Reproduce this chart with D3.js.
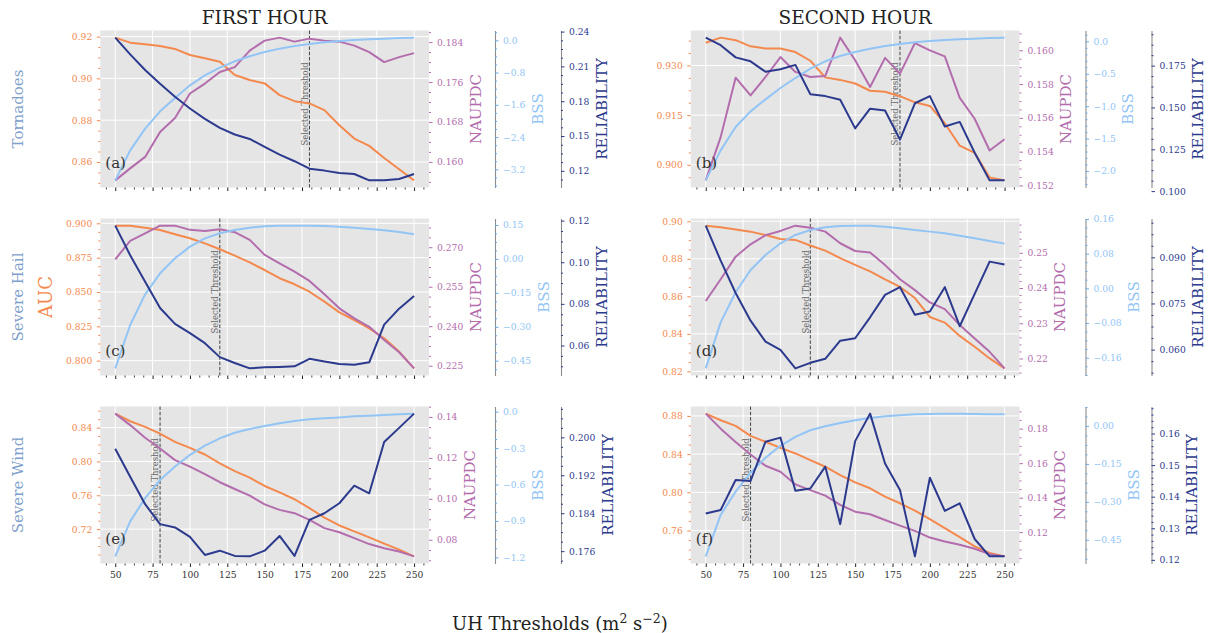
<!DOCTYPE html>
<html><head><meta charset="utf-8">
<script src="https://cdn.jsdelivr.net/npm/d3@7"></script>
<style>body{margin:0;background:#fff} text{font-family:"DejaVu Serif",serif}</style>
</head><body><svg id="c" width="1209" height="633"></svg>
<script>
// ---------- DATA ----------
const thresholds = [50,60,70,80,90,100,110,120,130,140,150,160,170,180,190,200,210,220,230,240,250];
const xTickLabels = ["50","75","100","125","150","175","200","225","250"];
const columnTitles = ["FIRST HOUR","SECOND HOUR"];
const rowLabels = ["Tornadoes","Severe Hail","Severe Wind"];
const panelLetters = ["(a)","(b)","(c)","(d)","(e)","(f)"];
const selectedThresholds = [180,180,120,120,80,80];

// (a) Tornadoes, first hour
const aucA = [0.9195,0.9171,0.9163,0.9155,0.9141,0.9112,0.9096,0.9080,0.9016,0.8992,0.8976,0.8920,0.8891,0.8880,0.8848,0.8776,0.8712,0.8677,0.8619,0.8565,0.8512];
const naupdcA = [0.1563,0.1587,0.1610,0.1660,0.1688,0.1737,0.1757,0.1780,0.1790,0.1823,0.1843,0.1849,0.1841,0.1847,0.1843,0.1841,0.1833,0.1820,0.1800,0.1810,0.1818];
const bssA = [-3.473,-2.729,-2.191,-1.761,-1.431,-1.116,-0.868,-0.678,-0.521,-0.397,-0.289,-0.207,-0.141,-0.091,-0.050,-0.017,0.008,0.025,0.041,0.058,0.066];
const relA = [0.2348,0.2204,0.2069,0.1950,0.1838,0.1737,0.1648,0.1571,0.1513,0.1475,0.1406,0.1340,0.1283,0.1219,0.1202,0.1182,0.1173,0.1118,0.1118,0.1130,0.1173];
// (b) Tornadoes, second hour
const aucB = [0.93687,0.93840,0.93764,0.93578,0.93513,0.93513,0.93404,0.93142,0.92640,0.92564,0.92455,0.92236,0.92204,0.92073,0.91887,0.91778,0.91255,0.90578,0.90360,0.89618,0.89531];
const naupdcB = [0.15230,0.15486,0.15838,0.15733,0.15842,0.15960,0.15872,0.15842,0.15848,0.16075,0.15941,0.15783,0.15955,0.15862,0.16043,0.16000,0.15964,0.15718,0.15595,0.15407,0.15473];
const bssB = [-2.144,-1.681,-1.321,-1.080,-0.895,-0.720,-0.566,-0.422,-0.308,-0.226,-0.165,-0.113,-0.072,-0.041,-0.015,0.005,0.021,0.031,0.041,0.051,0.057];
const relB = [0.19172,0.18722,0.17993,0.17757,0.17136,0.17286,0.17543,0.15786,0.15678,0.15464,0.13750,0.14929,0.14821,0.13078,0.15250,0.15678,0.13857,0.14136,0.12293,0.10643,0.10643];
// (c) Severe hail, first hour
const aucC = [0.8983,0.8983,0.8968,0.8951,0.8920,0.8891,0.8854,0.8811,0.8765,0.8716,0.8660,0.8600,0.8556,0.8502,0.8430,0.8352,0.8296,0.8235,0.8163,0.8066,0.7944];
const naupdcC = [0.2654,0.2724,0.2753,0.2782,0.2782,0.2766,0.2762,0.2768,0.2757,0.2728,0.2671,0.2639,0.2607,0.2572,0.2521,0.2468,0.2430,0.2398,0.2348,0.2301,0.2240];
const bssC = [-0.4838,-0.2922,-0.1566,-0.0637,0.0026,0.0542,0.0910,0.1132,0.1279,0.1382,0.1441,0.1471,0.1471,0.1471,0.1456,0.1426,0.1382,0.1323,0.1264,0.1190,0.1087];
const relC = [0.1176,0.1034,0.0906,0.0780,0.0704,0.0659,0.0611,0.0544,0.0516,0.0490,0.0495,0.0497,0.0500,0.0536,0.0523,0.0511,0.0507,0.0519,0.0700,0.0777,0.0838];
// (d) Severe hail, second hour
const aucD = [0.8977,0.8968,0.8956,0.8945,0.8927,0.8906,0.8901,0.8871,0.8844,0.8804,0.8768,0.8733,0.8690,0.8650,0.8591,0.8490,0.8460,0.8389,0.8331,0.8269,0.8216];
const naupdcD = [0.2363,0.2425,0.2489,0.2524,0.2550,0.2562,0.2577,0.2571,0.2560,0.2527,0.2505,0.2501,0.2465,0.2425,0.2394,0.2359,0.2340,0.2295,0.2257,0.2219,0.2172];
const bssD = [-0.1846,-0.0785,-0.0092,0.0423,0.0769,0.1038,0.1231,0.1346,0.1408,0.1438,0.1446,0.1446,0.1423,0.1385,0.1346,0.1308,0.1269,0.1215,0.1154,0.1092,0.1031];
const relD = [0.1003,0.0889,0.0784,0.0694,0.0626,0.0599,0.0539,0.0557,0.0570,0.0629,0.0637,0.0705,0.0778,0.0803,0.0713,0.0724,0.0803,0.0676,0.0781,0.0886,0.0877];
// (e) Severe wind, first hour
const aucE = [0.8565,0.8475,0.8408,0.8329,0.8231,0.8161,0.8082,0.7977,0.7886,0.7808,0.7710,0.7635,0.7553,0.7447,0.7337,0.7243,0.7173,0.7102,0.7028,0.6957,0.6878];
const naupdcE = [0.1416,0.1360,0.1298,0.1246,0.1189,0.1157,0.1121,0.1081,0.1048,0.1016,0.0973,0.0946,0.0930,0.0897,0.0857,0.0837,0.0808,0.0779,0.0759,0.0743,0.0719];
const bssE = [-1.192,-0.904,-0.712,-0.562,-0.452,-0.356,-0.279,-0.219,-0.173,-0.142,-0.118,-0.096,-0.077,-0.063,-0.055,-0.047,-0.038,-0.033,-0.027,-0.022,-0.016];
const relE = [0.1976,0.1917,0.1859,0.1817,0.1810,0.1790,0.1752,0.1761,0.1750,0.1749,0.1761,0.1792,0.1750,0.1826,0.1840,0.1861,0.1898,0.1882,0.1990,0.2020,0.2050];
// (f) Severe wind, second hour
const aucF = [0.8824,0.8755,0.8696,0.8591,0.8529,0.8466,0.8407,0.8337,0.8268,0.8181,0.8104,0.8042,0.7955,0.7885,0.7809,0.7718,0.7624,0.7530,0.7433,0.7364,0.7329];
const naupdcF = [0.1887,0.1800,0.1723,0.1650,0.1585,0.1550,0.1477,0.1444,0.1412,0.1358,0.1319,0.1304,0.1271,0.1238,0.1208,0.1169,0.1146,0.1127,0.1104,0.1073,0.1060];
const bssF = [-0.5157,-0.3517,-0.2598,-0.1850,-0.1260,-0.0787,-0.0433,-0.0171,-0.0013,0.0118,0.0223,0.0315,0.0381,0.0420,0.0459,0.0472,0.0486,0.0486,0.0472,0.0459,0.0459];
const relF = [0.1347,0.1358,0.1453,0.1450,0.1574,0.1587,0.1419,0.1426,0.1495,0.1313,0.1576,0.1663,0.1505,0.1421,0.1211,0.1460,0.1355,0.1379,0.1266,0.1211,0.1211];

// tick labels per panel / axis
const tAucA = ["0.86","0.88","0.90","0.92"];
const tNauA = ["0.160","0.168","0.176","0.184"];
const tBssA = ["−3.2","−2.4","−1.6","−0.8","0.0"];
const tRelA = ["0.12","0.15","0.18","0.21","0.24"];
const tAucB = ["0.900","0.915","0.930"];
const tNauB = ["0.152","0.154","0.156","0.158","0.160"];
const tBssB = ["−2.0","−1.5","−1.0","−0.5","0.0"];
const tRelB = ["0.100","0.125","0.150","0.175"];
const tAucC = ["0.800","0.825","0.850","0.875","0.900"];
const tNauC = ["0.225","0.240","0.255","0.270"];
const tBssC = ["−0.45","−0.30","−0.15","0.00","0.15"];
const tRelC = ["0.06","0.08","0.10","0.12"];
const tAucD = ["0.82","0.84","0.86","0.88","0.90"];
const tNauD = ["0.22","0.23","0.24","0.25"];
const tBssD = ["−0.16","−0.08","0.00","0.08","0.16"];
const tRelD = ["0.060","0.075","0.090"];
const tAucE = ["0.72","0.76","0.80","0.84"];
const tNauE = ["0.08","0.10","0.12","0.14"];
const tBssE = ["−1.2","−0.9","−0.6","−0.3","0.0"];
const tRelE = ["0.176","0.184","0.192","0.200"];
const tAucF = ["0.76","0.80","0.84","0.88"];
const tNauF = ["0.12","0.14","0.16","0.18"];
const tBssF = ["−0.45","−0.30","−0.15","0.00"];
const tRelF = ["0.12","0.13","0.14","0.15","0.16"];

const seriesNames = ["AUC","NAUPDC","BSS","RELIABILITY"];
const seriesColors = ["#F4894E","#B36DAD","#92C5F6","#2C3A8E"];

// ---------- BUILD ----------
const panels = [
  {col:0,row:0,data:[aucA,naupdcA,bssA,relA],ticks:[tAucA,tNauA,tBssA,tRelA]},
  {col:1,row:0,data:[aucB,naupdcB,bssB,relB],ticks:[tAucB,tNauB,tBssB,tRelB]},
  {col:0,row:1,data:[aucC,naupdcC,bssC,relC],ticks:[tAucC,tNauC,tBssC,tRelC]},
  {col:1,row:1,data:[aucD,naupdcD,bssD,relD],ticks:[tAucD,tNauD,tBssD,tRelD]},
  {col:0,row:2,data:[aucE,naupdcE,bssE,relE],ticks:[tAucE,tNauE,tBssE,tRelE]},
  {col:1,row:2,data:[aucF,naupdcF,bssF,relF],ticks:[tAucF,tNauF,tBssF,tRelF]}
];

const svg = d3.select('#c');
svg.append('rect').attr('width',1209).attr('height',633).attr('fill','#fff');
const colLeft=[100.3,690.8], plotW=328.7, rowTop=[30.5,218.5,406.5], plotH=157;
const xDomain=[40,260];
const xMajor = xTickLabels.map(Number);
const TICKFS = 9.2;

const parseTick = s => parseFloat(s.replace('−','-'));
function padDomain(v){const [a,b]=d3.extent(v); const r=b-a; return [a-0.05*r,b+0.05*r];}
function minorTicks(major, domain){
  const step = major[1]-major[0];
  const e = Math.floor(Math.log10(step)+1e-9);
  const m = Math.round(step/Math.pow(10,e)*10)/10;
  const nd = (Math.abs(m-1)<1e-6||Math.abs(m-5)<1e-6)?5:4;
  const ms = step/nd, out=[];
  const lo=Math.min(domain[0],domain[1]), hi=Math.max(domain[0],domain[1]);
  const k0=Math.ceil((lo-major[0])/ms-1e-9), k1=Math.floor((hi-major[0])/ms+1e-9);
  for(let k=k0;k<=k1;k++){ if(((k%nd)+nd)%nd===0) continue; out.push(major[0]+k*ms); }
  return out;
}
function styleAxis(ax, color, fs){
  ax.attr('font-family','"DejaVu Serif", serif').attr('font-size',fs);
  ax.selectAll('.tick line').attr('stroke',color);
  ax.selectAll('.tick text').attr('fill',color);
}

panels.forEach((p,pi)=>{
  const L=colLeft[p.col], T=rowTop[p.row], R=L+plotW, B=T+plotH;
  const g=svg.append('g');
  const x=d3.scaleLinear().domain(xDomain).range([L,R]);
  g.append('rect').attr('x',L).attr('y',T).attr('width',plotW).attr('height',plotH).attr('fill','#E5E5E5');
  const ys = p.data.map(d=>d3.scaleLinear().domain(padDomain(d)).range([B,T]));
  const majors = p.ticks.map(t=>t.map(parseTick));
  // grid
  g.append('g').selectAll('line').data(xMajor).join('line')
    .attr('x1',d=>x(d)).attr('x2',d=>x(d)).attr('y1',T).attr('y2',B)
    .attr('stroke','#fff').attr('stroke-width',1);
  g.append('g').selectAll('line').data(majors[0]).join('line')
    .attr('x1',L).attr('x2',R).attr('y1',d=>ys[0](d)).attr('y2',d=>ys[0](d))
    .attr('stroke','#fff').attr('stroke-width',1);
  // selected threshold
  const sel = selectedThresholds[pi];
  g.append('line').attr('x1',x(sel)).attr('x2',x(sel)).attr('y1',T).attr('y2',B)
    .attr('stroke','#444').attr('stroke-width',1).attr('stroke-dasharray','3.5,1.8');
  g.append('text').attr('transform',`translate(${x(sel)-1.6},${T+115}) rotate(-90)`)
    .attr('font-size',8.5).attr('fill','#666').text('Selected Threshold');
  // lines
  p.data.forEach((d,si)=>{
    const line=d3.line().x((v,i)=>x(thresholds[i])).y(v=>ys[si](v));
    g.append('path').datum(d).attr('d',line).attr('fill','none')
      .attr('stroke',seriesColors[si]).attr('stroke-width',2).attr('stroke-linejoin','round');
  });
  // panel letter
  g.append('text').attr('x',L+5).attr('y',B-20).attr('font-size',15).attr('fill','#333').text(panelLetters[pi]);

  // x axis
  const xa = g.append('g').attr('transform',`translate(0,${B})`)
    .call(d3.axisBottom(x).tickValues(xMajor).tickSize(3.5).tickPadding(4.7).tickSizeOuter(0)
      .tickFormat((d,i)=> p.row===2 ? xTickLabels[i] : ''));
  xa.select('.domain').remove(); styleAxis(xa,'#222',TICKFS);
  xa.selectAll('.tick text').attr('fill','#333');
  const xm = g.append('g').attr('transform',`translate(0,${B})`)
    .call(d3.axisBottom(x).tickValues(minorTicks(xMajor,xDomain)).tickSize(2).tickFormat(''));
  xm.select('.domain').remove(); styleAxis(xm,'#444',TICKFS);

  // AUC left
  const a0 = g.append('g').attr('transform',`translate(${L},0)`)
    .call(d3.axisLeft(ys[0]).tickValues(majors[0]).tickFormat((d,i)=>p.ticks[0][i]).tickSize(3.5).tickPadding(4.5).tickSizeOuter(0));
  a0.select('.domain').remove(); styleAxis(a0,seriesColors[0],TICKFS);
  const a0m = g.append('g').attr('transform',`translate(${L},0)`)
    .call(d3.axisLeft(ys[0]).tickValues(minorTicks(majors[0],ys[0].domain())).tickFormat('').tickSize(2));
  a0m.select('.domain').remove(); styleAxis(a0m,seriesColors[0],TICKFS);

  // right axes
  const offs=[0,66,132];
  [1,2,3].forEach((si,k)=>{
    const ax=R+offs[k];
    const a = g.append('g').attr('transform',`translate(${ax},0)`)
      .call(d3.axisRight(ys[si]).tickValues(majors[si]).tickFormat((d,i)=>p.ticks[si][i]).tickSize(3.5).tickPadding(4.5).tickSizeOuter(0));
    styleAxis(a,seriesColors[si],TICKFS);
    if(k===0) a.select('.domain').remove();
    else a.select('.domain').attr('stroke','#8c8c8c').attr('stroke-width',1.1);
    if(si===2) a.selectAll('.tick line').attr('stroke','#6aaae6');
    const am = g.append('g').attr('transform',`translate(${ax},0)`)
      .call(d3.axisRight(ys[si]).tickValues(minorTicks(majors[si],ys[si].domain())).tickFormat('').tickSize(2));
    am.select('.domain').remove(); styleAxis(am, si===2?'#6aaae6':seriesColors[si],TICKFS);
    const maxW = d3.max(a.selectAll('.tick text').nodes(), n=>n.getComputedTextLength());
    const lx = ax + 8 + maxW + 6.5 + 11;
    g.append('text').attr('transform',`translate(${lx},${T+plotH/2}) rotate(-90)`)
      .attr('text-anchor','middle').attr('font-size',15).attr('fill',seriesColors[si]).text(seriesNames[si]);
  });
});

// column titles
columnTitles.forEach((t,i)=>{
  svg.append('text').attr('x',colLeft[i]+plotW/2).attr('y',24).attr('text-anchor','middle')
    .attr('font-size',18.5).attr('fill','#222').text(t);
});
// row labels
rowLabels.forEach((t,i)=>{
  svg.append('text').attr('transform',`translate(23,${rowTop[i]+plotH/2}) rotate(-90)`)
    .attr('text-anchor','middle').attr('font-size',15).attr('fill','#7F9FCC').text(t);
});
// AUC label
svg.append('text').attr('transform',`translate(52,${rowTop[1]+plotH/2}) rotate(-90)`)
  .attr('text-anchor','middle').attr('font-size',18).attr('fill',seriesColors[0]).text(seriesNames[0]);
// x label
const xl = svg.append('text').attr('x',(colLeft[0]+colLeft[1]+plotW)/2).attr('y',630)
  .attr('text-anchor','middle').attr('font-size',18).attr('fill','#222');
xl.append('tspan').text('UH Thresholds (m');
xl.append('tspan').attr('dy',-7).attr('font-size',12.5).text('2');
xl.append('tspan').attr('dy',7).text(' s');
xl.append('tspan').attr('dy',-7).attr('font-size',12.5).text('−2');
xl.append('tspan').attr('dy',7).text(')');
</script></body></html>
